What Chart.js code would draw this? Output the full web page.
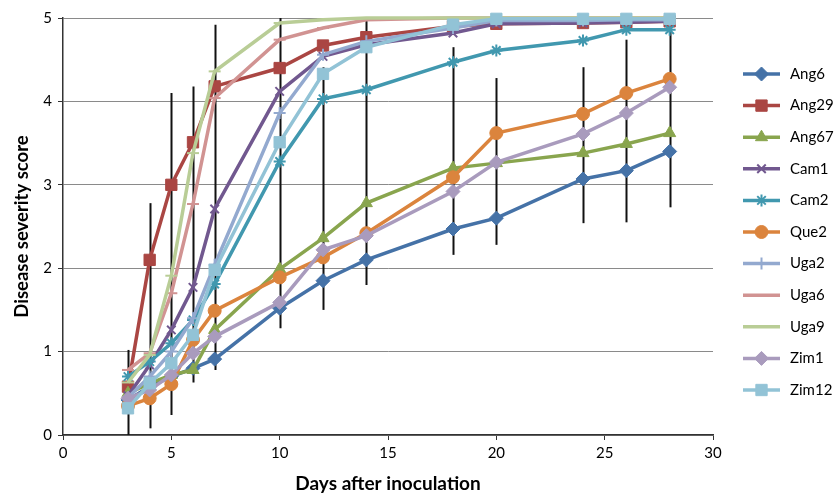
<!DOCTYPE html>
<html>
<head>
<meta charset="utf-8">
<script src="https://cdn.jsdelivr.net/npm/chart.js@4.4.1/dist/chart.umd.min.js"></script>
<style>
html,body{margin:0;padding:0;background:#fff}
#c{display:block}
</style>
</head>
<body>
<canvas id="c" width="834" height="496"></canvas>
<script>
// days after inoculation
const days = [3,4,5,6,7,10,12,14,18,20,24,26,28];

const ang6  = [0.42,0.58,0.70,0.80,0.91,1.52,1.85,2.10,2.47,2.60,3.07,3.17,3.40];
const ang29 = [0.58,2.10,3.00,3.51,4.18,4.40,4.67,4.77,4.90,4.93,4.94,4.95,4.96];
const ang67 = [0.50,0.62,0.72,0.78,1.26,1.99,2.36,2.78,3.20,3.26,3.38,3.49,3.62];
const cam1  = [0.47,0.84,1.26,1.77,2.71,4.12,4.54,4.68,4.82,4.93,4.94,4.95,4.96];
const cam2  = [0.70,0.88,1.10,1.38,1.81,3.28,4.03,4.14,4.47,4.61,4.73,4.86,4.86];
const que2  = [0.35,0.44,0.61,1.14,1.49,1.89,2.13,2.42,3.09,3.62,3.85,4.10,4.27];
const uga2  = [0.45,0.70,1.00,1.40,2.04,3.86,4.56,4.72,4.88,4.97,4.97,4.98,4.98];
const uga6  = [0.78,0.98,1.70,2.77,4.04,4.74,4.88,4.98,5.00,5.00,5.00,5.00,5.00];
const uga9  = [0.63,0.96,1.91,3.38,4.36,4.94,4.98,5.00,5.00,5.00,5.00,5.00,5.00];
const zim1  = [0.44,0.54,0.72,0.98,1.18,1.59,2.22,2.39,2.92,3.27,3.61,3.86,4.17];
const zim12 = [0.32,0.62,0.86,1.20,1.98,3.51,4.33,4.65,4.92,4.99,4.99,4.99,4.99];

// extent of the black error bars at each day
const errLow  = [0.00,0.08,0.24,0.63,0.78,1.28,1.50,1.80,2.16,2.28,2.54,2.55,2.73];
const errHigh = [1.02,2.78,4.10,4.18,4.92,5.00,4.41,5.00,4.65,4.28,4.41,4.74,4.86];

const names  = ["Ang6","Ang29","Ang67","Cam1","Cam2","Que2","Uga2","Uga6","Uga9","Zim1","Zim12"];
const series = [ang6,ang29,ang67,cam1,cam2,que2,uga2,uga6,uga9,zim1,zim12];
const colors = ["#4572A7","#AA4643","#89A54E","#71588F","#4198AF","#DB843D","#93A9CF","#D19392","#B9CD96","#A99BBD","#92C3D6"];
const styles = ["rectRot","rect","triangle","crossRot","star","circle","cross","line","line","rectRot","rect"];
const radii  = [7,8,7,6,6,6.5,6,6,6,7,8];

const FONT = "Lato, 'Open Sans', sans-serif";

const datasets = names.map((n,i)=>({
  label: n,
  data: days.map((d,j)=>({x:d, y:series[i][j]})),
  borderColor: colors[i],
  backgroundColor: colors[i],
  borderWidth: 3.5,
  pointStyle: styles[i],
  pointRadius: radii[i],
  pointBorderWidth: (styles[i]=="crossRot"||styles[i]=="star"||styles[i]=="cross"||styles[i]=="line") ? 2 : 1,
  pointBackgroundColor: colors[i],
  pointBorderColor: colors[i],
  tension: 0,
  order: names.length - i,
  clip: false
}));

const errorBars = {
  id: "errorBars",
  beforeDatasetsDraw(chart){
    const ctx = chart.ctx, xs = chart.scales.x, ys = chart.scales.y, a = chart.chartArea;
    ctx.save();
    ctx.beginPath();
    ctx.rect(a.left, a.top, a.right-a.left, a.bottom-a.top);
    ctx.clip();
    ctx.strokeStyle = "#111";
    ctx.lineWidth = 2;
    days.forEach((d,j)=>{
      const x = Math.round(xs.getPixelForValue(d)) + 0.5;
      ctx.beginPath();
      ctx.moveTo(x, ys.getPixelForValue(errLow[j]));
      ctx.lineTo(x, ys.getPixelForValue(errHigh[j]));
      ctx.stroke();
    });
    ctx.restore();
  }
};

const sideLegend = {
  id: "sideLegend",
  afterDraw(chart){
    const ctx = chart.ctx;
    ctx.save();
    chart.data.datasets.forEach((ds,i)=>{
      const y = 74 + i*31.6;
      ctx.strokeStyle = ds.borderColor;
      ctx.lineWidth = 3.5;
      ctx.beginPath();
      ctx.moveTo(743, y);
      ctx.lineTo(780, y);
      ctx.stroke();
      if (ds.pointStyle != "line") {
        ctx.fillStyle = ds.pointBackgroundColor;
        ctx.strokeStyle = ds.pointBorderColor;
        ctx.lineWidth = ds.pointBorderWidth;
        Chart.helpers.drawPoint(ctx, {pointStyle: ds.pointStyle, radius: ds.pointRadius, rotation: 0, borderWidth: ds.pointBorderWidth}, 761.5, y);
      }
      ctx.fillStyle = "#000";
      ctx.font = "15px " + FONT;
      ctx.textBaseline = "middle";
      ctx.textAlign = "left";
      ctx.fillText(ds.label, 790, y);
    });
    ctx.restore();
  }
};

new Chart(document.getElementById("c"), {
  type: "line",
  data: { datasets: datasets },
  options: {
    responsive: false,
    animation: false,
    devicePixelRatio: 1,
    layout: { padding: { left: 0, top: 18, right: 121, bottom: 0 } },
    plugins: { legend: { display: false }, tooltip: { enabled: false } },
    scales: {
      x: {
        type: "linear",
        min: 0, max: 30,
        ticks: { stepSize: 5, color: "#000", font: { family: FONT, size: 15 }, padding: 4, maxRotation: 0 },
        grid: { drawOnChartArea: false, tickLength: 5, tickColor: "#333" },
        border: { color: "#333", width: 1.5 },
        title: { display: true, text: "Days after inoculation", color: "#000", font: { family: FONT, size: 19, weight: "bold" }, padding: { top: 4, bottom: 1 } },
        afterFit: s => { s.height = 61; }
      },
      y: {
        min: 0, max: 5,
        ticks: { stepSize: 1, color: "#000", font: { family: FONT, size: 15 }, padding: 6 },
        grid: { color: "#8a8a8a", lineWidth: 1, tickLength: 5, tickColor: "#333" },
        border: { color: "#333", width: 1.5 },
        title: { display: true, text: "Disease severity score", color: "#000", font: { family: FONT, size: 18.5, weight: "bold" }, padding: { top: 11, bottom: 4 } },
        afterFit: s => { s.width = 63; }
      }
    }
  },
  plugins: [errorBars, sideLegend]
});
</script>
</body>
</html>
